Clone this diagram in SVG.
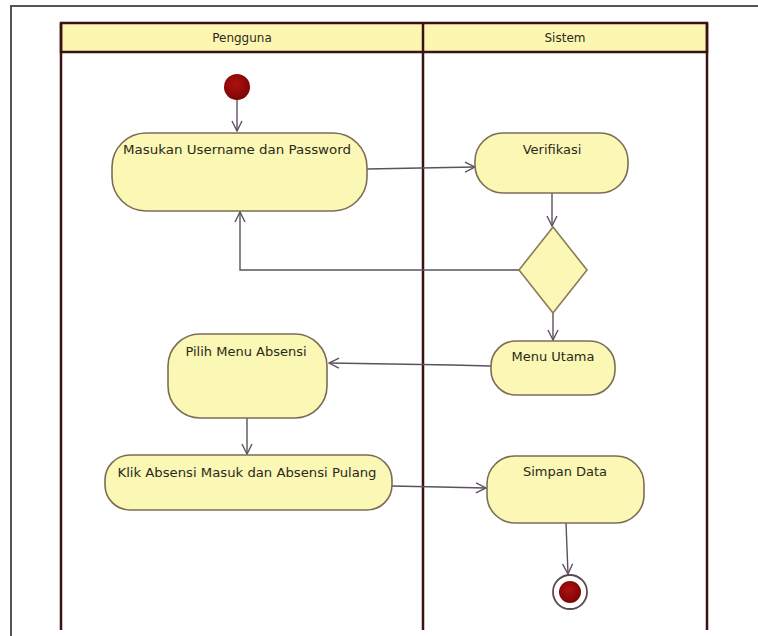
<svg xmlns="http://www.w3.org/2000/svg" width="758" height="636" viewBox="0 0 758 636">
<defs>
<style>
.frame{stroke:#555;stroke-width:2;fill:none}
.lane{stroke:#3a1212;stroke-width:2.5;fill:none}
.hdr{fill:#fdf6b0;stroke:#3a1212;stroke-width:2.5}
.act{fill:#fbf7b4;stroke:#7b6d55;stroke-width:1.6}
.dia{fill:#fbf7b4;stroke:#8a7a55;stroke-width:1.6}
.edge{stroke:#5e5060;stroke-width:1.4;fill:none}
.t{font-family:"DejaVu Sans","Liberation Sans",sans-serif;font-size:13px;fill:#2a2a1a;text-anchor:middle}
.h{font-family:"DejaVu Sans","Liberation Sans",sans-serif;font-size:12px;fill:#2a2a1a;text-anchor:middle}
</style>
<marker id="arr" viewBox="0 0 12 12" refX="11" refY="6" markerWidth="12" markerHeight="12" markerUnits="userSpaceOnUse" orient="auto">
<path d="M1,1 L11,6 L1,11" fill="none" stroke="#5e5060" stroke-width="1.4"/>
</marker>
<radialGradient id="red" cx="45%" cy="40%" r="60%">
<stop offset="0" stop-color="#b01010"/>
<stop offset="1" stop-color="#7a0606"/>
</radialGradient>
</defs>
<rect width="758" height="636" fill="#ffffff"/>
<g id="frame">
<path class="frame" d="M11,636 V6 H758"/>
</g>
<g id="swimlanes">
<rect class="hdr" x="61" y="23" width="646" height="29"/>
<line class="lane" x1="61" y1="23" x2="61" y2="630"/>
<line class="lane" x1="423" y1="23" x2="423" y2="630"/>
<line class="lane" x1="707" y1="23" x2="707" y2="630"/>
<text class="h" x="242" y="42">Pengguna</text>
<text class="h" x="565" y="42">Sistem</text>
</g>
<g id="connectors">
<path class="edge" d="M237,100 V131" marker-end="url(#arr)"/>
<path class="edge" d="M367,169 L420,168 L475,167" marker-end="url(#arr)"/>
<path class="edge" d="M552,193 V226" marker-end="url(#arr)"/>
<path class="edge" d="M519,270 H240 V212" marker-end="url(#arr)"/>
<path class="edge" d="M553,313 V340" marker-end="url(#arr)"/>
<path class="edge" d="M491,366 L452,365 L329,363" marker-end="url(#arr)"/>
<path class="edge" d="M247,418 V454" marker-end="url(#arr)"/>
<path class="edge" d="M392,486 L440,487 L486,488" marker-end="url(#arr)"/>
<path class="edge" d="M566,523 L568,574" marker-end="url(#arr)"/>
</g>
<g id="start">
<circle cx="237" cy="87" r="13" fill="url(#red)"/>
</g>
<g id="masukan">
<rect class="act" x="112" y="133" width="255" height="78" rx="34" ry="34"/>
<text class="t" x="237" y="154" textLength="228" lengthAdjust="spacingAndGlyphs">Masukan Username dan Password</text>
</g>
<g id="verifikasi">
<rect class="act" x="475" y="133" width="153" height="60" rx="28" ry="28"/>
<text class="t" x="552" y="154">Verifikasi</text>
</g>
<g id="decision">
<polygon class="dia" points="553,227 587,270 553,313 519,270"/>
</g>
<g id="menu-utama">
<rect class="act" x="491" y="341" width="124" height="54" rx="25" ry="25"/>
<text class="t" x="553" y="361">Menu Utama</text>
</g>
<g id="pilih-menu">
<rect class="act" x="168" y="334" width="159" height="84" rx="32" ry="32"/>
<text class="t" x="246" y="356">Pilih Menu Absensi</text>
</g>
<g id="klik-absensi">
<rect class="act" x="105" y="455" width="287" height="55" rx="25" ry="25"/>
<text class="t" x="247" y="477" textLength="259" lengthAdjust="spacingAndGlyphs">Klik Absensi Masuk dan Absensi Pulang</text>
</g>
<g id="simpan-data">
<rect class="act" x="487" y="456" width="157" height="67" rx="28" ry="28"/>
<text class="t" x="565" y="476">Simpan Data</text>
</g>
<g id="end">
<circle cx="570" cy="592" r="17" fill="#ffffff" stroke="#5a4a4a" stroke-width="1.8"/>
<circle cx="570" cy="592" r="11" fill="url(#red)"/>
</g>
</svg>
